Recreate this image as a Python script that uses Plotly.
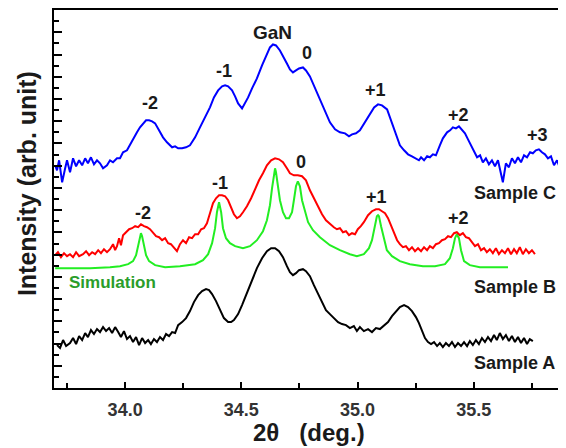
import plotly.graph_objects as go

# ---- Sample C (blue) ----
c_x = [33.699,33.707,33.716,33.729,33.742,33.750,33.763,33.776,33.789,33.802,33.815,33.828,33.840,33.853,33.866,33.879,
       33.892,33.905,33.922,33.935,33.948,33.965,33.978,33.991,34.008,34.021,34.034,34.051,34.064,34.077,34.090,34.103,
       34.116,34.129,34.146,34.163,34.180,34.202,34.215,34.228,34.245,34.262,34.279,34.301,34.322,34.344,34.365,34.382,
       34.400,34.417,34.430,34.443,34.460,34.473,34.486,34.503,34.516,34.529,34.546,34.567,34.589,34.610,34.623,34.636,
       34.649,34.666,34.684,34.696,34.709,34.722,34.735,34.748,34.765,34.778,34.795,34.817,34.838,34.860,34.881,34.903,
       34.924,34.946,34.963,34.976,34.993,35.010,35.032,35.053,35.071,35.088,35.105,35.127,35.139,35.152,35.170,35.182,
       35.200,35.217,35.234,35.251,35.264,35.273,35.286,35.299,35.311,35.324,35.337,35.354,35.367,35.385,35.398,35.410,
       35.423,35.436,35.449,35.462,35.475,35.488,35.501,35.514,35.527,35.539,35.552,35.565,35.578,35.591,35.604,35.617,
       35.625,35.638,35.651,35.664,35.677,35.690,35.703,35.716,35.729,35.742,35.754,35.767,35.780,35.793,35.806,35.819,
       35.832,35.845,35.858,35.871,35.884]
c_y = [223,218,228,206,220,228,216,230,222,228,223,230,225,231,224,228,
       225,220,223,228,226,230,230,236,238,243,248,256,261,264,268,268,
       267,265,258,251,246,241,242,240,240,241,243,251,261,271,281,291,
       298,302,303,302,298,292,285,280,285,291,300,310,323,335,341,344,
       343,338,331,325,319,316,318,320,321,318,312,300,288,276,266,259,
       256,255,252,254,255,258,266,275,281,284,283,279,271,261,250,243,
       238,234,232,230,228,231,228,232,231,234,233,243,250,256,258,261,
       260,262,258,255,249,243,238,231,233,226,230,224,228,222,228,216,
       206,225,221,230,225,231,226,233,231,236,235,238,239,236,234,230,
       232,223,228,220,225]

# ---- Sample B (red) ----
b_x = [33.699,33.711,33.724,33.737,33.750,33.763,33.776,33.789,33.802,33.819,33.832,33.845,33.858,33.871,33.884,33.896,
       33.909,33.922,33.935,33.948,33.957,33.965,33.974,33.982,33.991,34.004,34.017,34.030,34.043,34.056,34.068,34.081,
       34.094,34.107,34.120,34.133,34.146,34.159,34.172,34.185,34.197,34.210,34.223,34.236,34.249,34.262,34.275,34.288,
       34.301,34.314,34.327,34.339,34.352,34.365,34.378,34.391,34.404,34.417,34.430,34.443,34.456,34.468,34.481,34.494,
       34.507,34.524,34.542,34.559,34.576,34.593,34.610,34.628,34.645,34.662,34.679,34.696,34.709,34.726,34.743,34.761,
       34.778,34.795,34.812,34.830,34.847,34.864,34.881,34.898,34.911,34.924,34.937,34.950,34.963,34.976,34.989,35.001,
       35.014,35.027,35.045,35.062,35.079,35.092,35.105,35.118,35.131,35.144,35.157,35.170,35.182,35.195,35.208,35.221,
       35.234,35.247,35.260,35.273,35.286,35.299,35.311,35.324,35.337,35.350,35.363,35.376,35.389,35.402,35.415,35.427,
       35.440,35.453,35.466,35.479,35.492,35.505,35.518,35.531,35.544,35.556,35.569,35.582,35.595,35.608,35.621,35.634,
       35.647,35.660,35.673,35.685,35.698,35.711,35.724,35.737,35.750,35.763]
b_y = [133,136,131,135,132,134,131,136,132,134,137,133,136,134,138,135,
       139,136,139,144,138,142,150,143,153,156,159,160,162,161,164,162,
       161,159,156,152,151,148,150,145,144,140,137,144,148,145,151,150,
       154,154,159,160,165,175,185,190,193,193,192,188,181,174,170,172,
       176,182,190,199,208,215,223,228,230,229,226,220,215,213,213,212,
       208,198,190,182,174,168,164,161,159,160,156,157,153,155,154,159,
       162,166,173,177,179,179,177,175,170,162,155,148,144,141,142,138,
       141,137,140,137,141,138,142,140,144,145,148,149,152,151,155,156,
       153,155,151,150,146,142,144,138,140,136,139,135,140,134,138,135,
       140,134,139,135,141,134,139,135,138,134]

# ---- Simulation (green) ----
s_x = [33.699,33.763,33.849,33.935,33.978,34.013,34.034,34.047,34.056,34.064,34.068,34.073,34.081,34.090,34.103,34.129,
       34.172,34.236,34.301,34.335,34.357,34.374,34.387,34.395,34.404,34.413,34.421,34.434,34.451,34.473,34.507,34.537,
       34.567,34.593,34.610,34.623,34.632,34.640,34.645,34.649,34.658,34.666,34.679,34.692,34.705,34.718,34.726,34.735,
       34.743,34.752,34.761,34.774,34.787,34.808,34.838,34.881,34.924,34.967,34.997,35.027,35.049,35.062,35.075,35.083,
       35.088,35.092,35.101,35.114,35.126,35.148,35.182,35.225,35.281,35.333,35.376,35.397,35.410,35.419,35.427,35.436,
       35.445,35.458,35.483,35.526,35.591,35.647]
s_y = [120,120,120,121,122,124,127,133,142,152,155,152,142,133,127,123,
       121,122,124,128,134,145,160,176,186,176,160,150,145,142,140,142,
       148,157,168,183,200,216,220,216,200,188,176,170,170,176,188,202,
       207,202,188,176,166,158,151,143,138,134,132,134,140,148,163,172,
       173,172,162,148,138,132,127,124,122,122,124,130,140,150,154,150,
       138,127,123,121,121,121]

# ---- Sample A (black) ----
a_x = [33.707,33.720,33.733,33.746,33.763,33.776,33.789,33.802,33.815,33.828,33.840,33.853,33.866,33.879,33.892,33.905,
       33.918,33.931,33.944,33.957,33.970,33.982,33.995,34.008,34.021,34.034,34.047,34.060,34.073,34.086,34.099,34.111,
       34.124,34.137,34.150,34.163,34.176,34.189,34.202,34.215,34.228,34.245,34.262,34.279,34.296,34.314,34.331,34.348,
       34.361,34.374,34.391,34.408,34.425,34.443,34.456,34.468,34.486,34.503,34.524,34.546,34.567,34.589,34.610,34.628,
       34.645,34.662,34.679,34.696,34.709,34.722,34.735,34.748,34.765,34.778,34.795,34.812,34.830,34.847,34.864,34.881,
       34.898,34.916,34.933,34.950,34.967,34.984,34.997,35.010,35.027,35.045,35.062,35.079,35.096,35.114,35.131,35.148,
       35.165,35.182,35.200,35.217,35.234,35.251,35.264,35.277,35.290,35.303,35.316,35.329,35.342,35.354,35.367,35.380,
       35.393,35.406,35.419,35.432,35.445,35.458,35.471,35.483,35.496,35.509,35.522,35.535,35.548,35.561,35.574,35.587,
       35.599,35.612,35.625,35.638,35.651,35.664,35.677,35.690,35.703,35.716,35.729,35.741,35.754]
a_y = [43,40,48,42,45,50,44,52,48,55,51,58,54,59,56,61,
       57,60,55,61,56,51,57,49,52,46,51,43,50,45,48,44,
       49,46,51,48,54,52,56,55,63,66,70,77,86,93,97,99,
       98,94,87,78,70,66,66,68,74,83,95,108,120,130,137,140,
       140,137,131,122,116,113,115,118,119,117,112,103,94,85,78,74,
       70,66,64,63,60,62,57,61,57,59,56,60,59,63,66,72,
       77,81,83,81,77,71,65,57,50,46,44,46,42,45,41,45,
       42,46,41,45,42,46,42,47,43,48,44,50,46,51,47,53,
       48,55,49,53,47,52,46,51,45,50,44,49,47]

# ---- labels ----
peak_labels_c = ["-2", "-1", "0", "+1", "+2", "+3"]
peak_x_c = [34.107, 34.425, 34.782, 35.075, 35.432, 35.772]
peak_y_c = [285, 317, 335, 298, 273, 253]
peak_labels_b = ["-2", "-1", "0", "+1", "+2"]
peak_x_b = [34.077, 34.408, 34.756, 35.083, 35.432]
peak_y_b = [175, 205, 226, 191, 170]
sample_names = ["Sample C", "Sample B", "Sample A"]
sample_x = [35.677, 35.677, 35.677]
sample_y = [195, 101, 25]

FONT = "Liberation Sans"
TXT = "#1a1a1a"

fig = go.Figure()
fig.add_trace(go.Scatter(x=a_x, y=a_y, mode="lines", line=dict(color="#000000", width=2), showlegend=False))
fig.add_trace(go.Scatter(x=s_x, y=s_y, mode="lines", line=dict(color="#22ee22", width=2), showlegend=False))
fig.add_trace(go.Scatter(x=b_x, y=b_y, mode="lines", line=dict(color="#ff0000", width=2), showlegend=False))
fig.add_trace(go.Scatter(x=c_x, y=c_y, mode="lines", line=dict(color="#0000ff", width=2), showlegend=False))

ann = []
for t, x, y in zip(peak_labels_c, peak_x_c, peak_y_c):
    ann.append(dict(x=x, y=y, text="<b>%s</b>" % t, showarrow=False, font=dict(family=FONT, size=18, color=TXT)))
for t, x, y in zip(peak_labels_b, peak_x_b, peak_y_b):
    ann.append(dict(x=x, y=y, text="<b>%s</b>" % t, showarrow=False, font=dict(family=FONT, size=18, color=TXT)))
for t, x, y in zip(sample_names, sample_x, sample_y):
    ann.append(dict(x=x, y=y, text="<b>%s</b>" % t, showarrow=False, font=dict(family=FONT, size=18, color=TXT)))
ann.append(dict(x=34.632, y=356, text="<b>GaN</b>", showarrow=False, font=dict(family=FONT, size=19, color=TXT)))
ann.append(dict(x=33.750, y=106, text="<b>Simulation</b>", showarrow=False, xanchor="left",
                font=dict(family=FONT, size=17, color="#2a9d2a")))
ann.append(dict(xref="paper", yref="paper", x=-0.053, y=0.542, xanchor="center", yanchor="middle",
                text="<b>Intensity (arb. unit)</b>",
                textangle=-90, showarrow=False, font=dict(family=FONT, size=25, color=TXT)))
ann.append(dict(xref="paper", yref="paper", x=0.50, y=-0.119, xanchor="center", yanchor="middle",
                text="<b>2θ\u00a0\u00a0\u00a0(deg.)</b>",
                showarrow=False, font=dict(family=FONT, size=24, color=TXT)))

# the page body adds an 8px offset, so the figure is 8px smaller on each axis
fig.update_layout(
    width=558, height=440,
    margin=dict(l=46, r=2, t=1.5, b=60, autoexpand=False),
    paper_bgcolor="white", plot_bgcolor="white",
    annotations=ann,
    xaxis=dict(range=[33.694, 35.888], tick0=34.0, dtick=0.5, ticks="inside", ticklen=6, tickwidth=2,
               tickformat=".1f", showline=True, linewidth=2, linecolor="black", mirror=True,
               showgrid=False, zeroline=False, automargin=False, ticklabelstandoff=4,
               tickfont=dict(family=FONT, size=18, color="#333333", weight="bold"),
               minor=dict(ticks="inside", dtick=0.25, ticklen=5, tickwidth=2, tickcolor="black"),
               tickcolor="black"),
    yaxis=dict(range=[0, 378.5], tick0=0, dtick=22.26, ticks="inside", ticklen=8, tickwidth=2,
               showticklabels=False, showline=True, linewidth=2, linecolor="black", mirror=True,
               showgrid=False, zeroline=False, tickcolor="black", automargin=False,
               minor=dict(ticks="inside", dtick=11.13, ticklen=5, tickwidth=2, tickcolor="black")),
)
fig.write_html("out.html")
